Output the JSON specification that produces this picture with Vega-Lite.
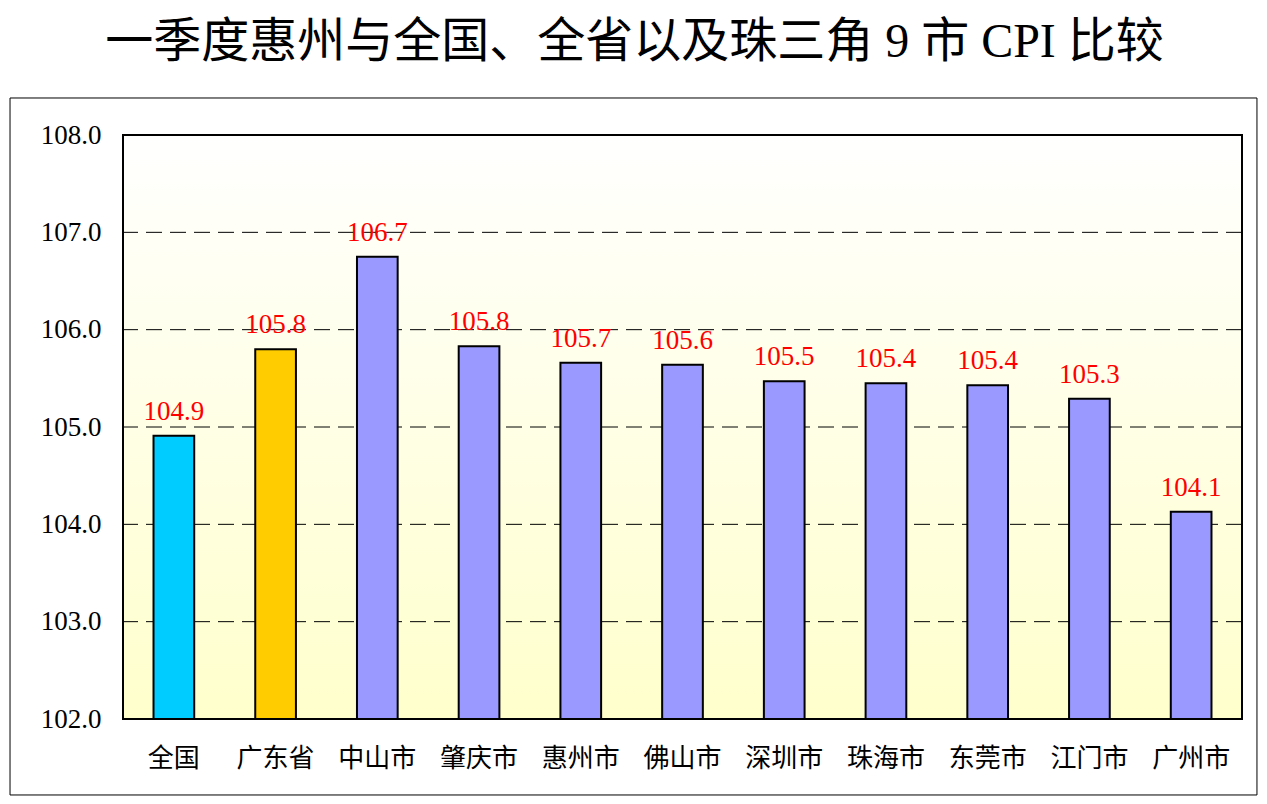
{
  "$schema": "https://vega.github.io/schema/vega-lite/v6.json",
  "width": 1119,
  "height": 584,
  "autosize": {"type": "none"},
  "padding": {"left": 123, "top": 135, "right": 25, "bottom": 85},
  "background": "white",
  "title": {
    "text": "一季度惠州与全国、全省以及珠三角 9 市 CPI 比较",
    "font": "Liberation Serif, Noto Sans CJK SC",
    "fontSize": 48,
    "fontWeight": "normal",
    "color": "black",
    "anchor": "middle",
    "dx": -48,
    "offset": 30
  },
  "config": {
    "view": {"stroke": null},
    "font": "Liberation Serif, Noto Sans CJK SC",
    "axis": {
      "labelFont": "Liberation Serif, Noto Sans CJK SC",
      "labelFontSize": 26,
      "labelColor": "black",
      "domain": false,
      "grid": false,
      "title": null
    },
    "axisX": {
      "labelAngle": 0,
      "labelPadding": 26,
      "ticks": false,
      "zindex": 1
    },
    "axisY": {
      "labelFont": "Liberation Serif",
      "labelFontSize": 27,
      "ticks": false,
      "labelPadding": 22
    }
  },
  "resolve": {"scale": {"x": "independent", "y": "independent"}},
  "layer": [
    {
      "data": {"values": [{"a": 0, "b": 1}]},
      "mark": {"type": "rect", "filled": false, "stroke": "black", "strokeWidth": 1},
      "encoding": {
        "x": {"field": "a", "type": "quantitative", "axis": null, "scale": {"domain": [0.0906, 0.988], "nice": false, "zero": false}},
        "x2": {"field": "b"},
        "y": {"field": "a", "type": "quantitative", "axis": null, "scale": {"domain": [0.109, 0.9469], "nice": false, "zero": false}},
        "y2": {"field": "b"}
      }
    },
    {
      "data": {
        "values": [
          {"region": "全国", "cpi": 104.91, "label": "104.9", "group": "national"},
          {"region": "广东省", "cpi": 105.8, "label": "105.8", "group": "province"},
          {"region": "中山市", "cpi": 106.75, "label": "106.7", "group": "city"},
          {"region": "肇庆市", "cpi": 105.83, "label": "105.8", "group": "city"},
          {"region": "惠州市", "cpi": 105.66, "label": "105.7", "group": "city"},
          {"region": "佛山市", "cpi": 105.64, "label": "105.6", "group": "city"},
          {"region": "深圳市", "cpi": 105.47, "label": "105.5", "group": "city"},
          {"region": "珠海市", "cpi": 105.45, "label": "105.4", "group": "city"},
          {"region": "东莞市", "cpi": 105.43, "label": "105.4", "group": "city"},
          {"region": "江门市", "cpi": 105.29, "label": "105.3", "group": "city"},
          {"region": "广州市", "cpi": 104.13, "label": "104.1", "group": "city"}
        ]
      },
      "layer": [
        {
          "data": {"values": [{}]},
          "mark": {
            "type": "rect",
            "color": {
              "gradient": "linear",
              "x1": 0, "y1": 0, "x2": 0, "y2": 1,
              "stops": [
                {"offset": 0, "color": "#FFFFFF"},
                {"offset": 1, "color": "#FFFFCC"}
              ]
            }
          },
          "encoding": {}
        },
        {
          "data": {"values": [{"v": 103}, {"v": 104}, {"v": 105}, {"v": 106}, {"v": 107}]},
          "mark": {"type": "rule", "color": "black", "strokeWidth": 1, "strokeDash": [16, 8]},
          "encoding": {"y": {"field": "v", "type": "quantitative"}}
        },
        {
          "mark": {"type": "bar", "stroke": "black", "strokeWidth": 2},
          "encoding": {
            "x": {
              "field": "region",
              "type": "nominal",
              "sort": null,
              "scale": {"paddingInner": 0.6, "paddingOuter": 0.3}
            },
            "y": {
              "field": "cpi",
              "type": "quantitative",
              "scale": {"domain": [102, 108], "nice": false, "zero": false},
              "axis": {"values": [102, 103, 104, 105, 106, 107, 108], "format": ".1f"}
            },
            "y2": {"datum": 102},
            "color": {
              "field": "group",
              "type": "nominal",
              "legend": null,
              "scale": {"domain": ["national", "province", "city"], "range": ["#00CCFF", "#FFCC00", "#9999FF"]}
            }
          }
        },
        {
          "mark": {"type": "text", "color": "#FF0000", "font": "Liberation Serif", "fontSize": 27, "baseline": "bottom", "dy": -10},
          "encoding": {
            "x": {"field": "region", "type": "nominal", "sort": null},
            "y": {"field": "cpi", "type": "quantitative"},
            "text": {"field": "label"}
          }
        },
        {
          "data": {"values": [{}]},
          "mark": {"type": "rect", "filled": false, "stroke": "black", "strokeWidth": 2},
          "encoding": {}
        }
      ]
    }
  ]
}
